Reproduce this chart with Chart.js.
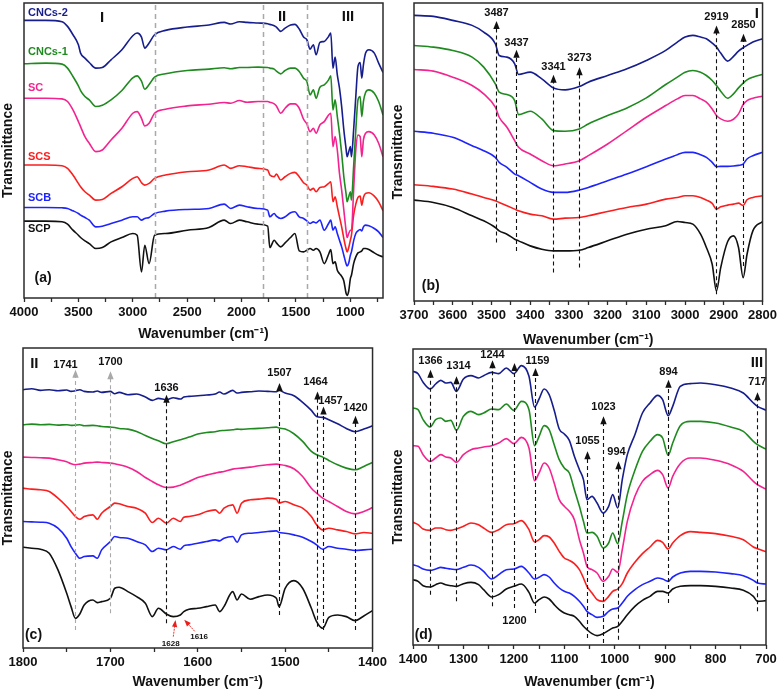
<!DOCTYPE html>
<html><head><meta charset="utf-8">
<script src="https://cdn.jsdelivr.net/npm/chart.js@4.4.1/dist/chart.umd.min.js"></script>
<style>
html,body{margin:0;padding:0;background:#fff;}
#wrap{position:relative;width:780px;height:694px;overflow:hidden;background:#fff;}
canvas{position:absolute;}
</style></head><body>
<div id="wrap">
<canvas id="ca" width="390" height="350" style="left:0;top:0;width:390px;height:350px"></canvas>
<canvas id="cb" width="390" height="350" style="left:390px;top:0;width:390px;height:350px"></canvas>
<canvas id="cc" width="390" height="349" style="left:0;top:345px;width:390px;height:349px"></canvas>
<canvas id="cd" width="390" height="349" style="left:390px;top:345px;width:390px;height:349px"></canvas>
</div>
<script>
// ---------- series names ----------
const seriesNames = ['CNCs-2','CNCs-1','SC','SCS','SCB','SCP'];

// ---------- panel (a): 4000-700 cm-1 ----------
const aWN = [4000,3800,3650,3600,3550,3500,3480,3440,3400,3340,3280,3200,3100,3000,2960,2920,2890,2850,2800,2700,2500,2300,2160,2100,2020,1950,1850,1760,1740,1700,1680,1640,1600,1550,1510,1470,1430,1400,1370,1340,1315,1280,1240,1200,1180,1160,1140,1120,1100,1080,1060,1040,1030,1015,1000,990,970,950,930,910,895,880,860,830,780,740,700];
const aCNCs2 = [938,938,934,920,895,865,840,825,812,795,797,820,850,892,900,888,855,870,895,908,918,924,932,927,934,932,930,928,926,922,918,905,915,924,926,912,888,880,852,865,835,872,875,890,900,795,828,775,735,680,610,555,530,545,560,530,610,710,800,812,765,805,840,850,840,810,782];
const aCNCs1 = [808,810,807,795,770,742,728,710,700,680,684,700,728,766,772,756,732,746,768,778,788,792,796,793,797,797,798,797,795,792,786,778,788,795,795,785,765,755,715,730,705,738,745,760,772,670,700,650,600,540,470,420,395,410,425,400,500,610,700,710,650,695,722,730,720,695,655];
const aSC    = [705,705,703,695,670,635,620,590,570,545,550,580,615,660,665,645,622,630,660,672,682,687,692,690,698,693,695,695,693,688,682,660,675,688,688,675,642,628,605,615,600,625,635,655,660,560,590,550,480,430,370,310,288,300,310,310,430,550,595,590,530,580,600,605,595,570,530];
const aSCS   = [505,505,503,495,475,450,440,425,415,400,402,420,440,465,470,452,445,450,465,475,485,490,505,495,503,500,495,490,475,470,478,460,470,480,483,470,452,445,430,435,425,438,440,450,455,395,410,380,350,320,285,255,245,258,280,295,355,388,408,412,385,408,420,422,412,395,368];
const aSCB   = [378,378,377,375,368,360,355,348,340,320,322,330,340,350,350,340,345,348,360,367,372,375,388,375,385,380,375,370,350,360,352,345,350,362,365,350,345,338,330,335,332,340,310,330,340,310,320,300,280,260,235,210,203,212,235,245,278,300,308,312,308,320,325,323,315,305,288];
const aSCP   = [337,337,335,328,310,295,288,278,270,255,258,275,288,300,295,185,265,210,295,300,310,318,340,330,340,335,328,322,258,280,272,260,272,288,300,248,245,250,255,250,255,245,210,238,252,210,215,190,180,172,158,122,115,128,165,175,210,230,242,245,248,255,255,252,242,235,230];
const aMajor = [4000,3500,3000,2500,2000,1500,1000];
const aMinor = [3750,3250,2750,2250,1750,1250,750];
const aRegions = [2800,1800,1400];

// ---------- panel (b): 3700-2800 cm-1 ----------
const bWN = [3700,3650,3600,3550,3520,3490,3480,3460,3440,3430,3400,3370,3340,3310,3273,3250,3200,3150,3100,3050,3020,3000,2980,2960,2945,2930,2919,2908,2890,2875,2862,2850,2840,2825,2800];
const bCNCs2 = [955,952,940,925,905,870,835,830,810,778,785,765,738,732,742,755,775,795,820,850,875,890,895,890,885,872,860,842,818,832,848,858,865,875,885];
const bCNCs1 = [865,860,850,830,800,750,725,718,700,658,668,645,610,608,615,630,655,678,708,748,770,785,790,785,775,760,745,728,707,720,738,752,762,770,778];
const bSC    = [793,788,770,745,720,680,650,620,580,560,540,520,505,510,520,535,570,610,650,685,705,715,715,705,695,675,655,645,638,644,660,688,700,707,713];
const bSCS   = [448,443,435,420,410,400,395,385,375,370,360,355,345,348,350,355,368,380,390,405,410,415,415,410,402,392,375,382,387,390,393,386,403,410,415];
const bSCB   = [608,602,590,565,550,530,515,500,480,475,455,435,425,425,432,440,460,480,502,525,538,545,545,538,530,515,502,503,503,504,506,510,525,535,545];
const bSCP   = [402,395,380,355,340,320,310,300,285,280,265,255,250,250,252,260,280,300,315,325,338,335,330,300,260,210,130,200,278,295,260,170,240,310,338];
const bMajor = [3700,3600,3500,3400,3300,3200,3100,3000,2900,2800];
const bMinor = [3650,3550,3450,3350,3250,3150,3050,2950,2850];
const bPeaks = [3487,3437,3341,3273,2919,2850];

// ---------- panel (c): 1800-1400 cm-1 ----------
const cWN = [1800,1790,1780,1770,1760,1750,1745,1740,1735,1730,1720,1715,1710,1700,1695,1690,1680,1670,1660,1652,1645,1636,1628,1620,1616,1610,1600,1590,1580,1575,1570,1560,1555,1550,1540,1530,1520,1510,1507,1500,1490,1480,1470,1464,1457,1450,1440,1430,1420,1410,1400];
const cCNCs2 = [850,853,848,850,847,849,845,847,850,845,843,846,842,845,838,842,835,837,828,818,824,820,826,822,828,830,832,834,837,843,837,848,840,842,844,846,845,844,848,840,832,812,788,770,767,760,748,734,724,732,742];
const cCNCs1 = [745,747,745,746,744,745,743,744,745,742,743,742,740,738,737,734,732,725,713,704,697,688,694,700,703,708,717,722,724,727,728,730,732,731,733,734,736,738,735,732,718,695,665,655,648,638,625,615,610,620,632];
const cSC    = [648,647,646,645,640,634,628,625,627,630,632,633,632,630,628,625,618,605,587,575,565,557,558,564,568,575,587,594,600,603,605,612,614,615,618,622,625,627,626,623,613,590,555,540,525,515,500,485,478,485,497];
const cSCS   = [555,552,550,545,525,500,485,470,462,470,475,462,480,500,510,508,500,495,480,452,465,450,465,455,468,470,475,485,490,480,495,505,480,510,520,522,525,522,510,515,505,495,470,445,430,435,430,425,418,422,420];
const cSCB   = [455,454,453,450,435,405,380,360,345,350,352,345,370,395,410,407,405,395,385,365,375,370,380,372,382,385,390,395,400,397,405,410,393,415,420,422,425,427,422,420,415,408,395,385,372,380,375,372,368,370,372];
const cSCP   = [378,375,372,360,310,240,200,165,178,205,220,212,215,225,255,258,245,230,210,170,195,178,170,175,185,192,195,200,205,185,200,245,220,238,222,230,235,225,200,255,278,255,195,155,135,168,175,170,158,172,188];
const cMajor = [1800,1700,1600,1500,1400];
const cMinor = [1750,1650,1550,1450];
const cPeaks = [1741,1700,1636,1507,1464,1457,1420];
const cRedPeaks = [1628,1616];

// ---------- panel (d): 1400-700 cm-1 ----------
const dWN = [1400,1390,1380,1366,1355,1345,1335,1325,1314,1300,1285,1270,1260,1244,1230,1215,1200,1185,1170,1159,1150,1140,1130,1120,1110,1100,1090,1080,1070,1062,1055,1045,1035,1023,1012,1004,994,985,975,960,945,930,915,905,894,885,870,850,830,800,770,745,725,717,700];
const dCNCs2 = [905,898,872,852,867,878,870,872,845,882,892,885,892,902,898,915,898,922,890,798,822,852,835,788,732,717,698,650,610,580,520,530,510,480,500,535,495,580,655,715,780,810,833,820,772,800,860,868,870,865,855,840,810,800,788];
const dCNCs1 = [795,790,760,738,760,765,755,758,728,770,785,775,780,792,790,807,788,815,790,682,710,742,730,685,640,615,600,550,500,455,420,422,410,375,390,420,388,455,535,608,665,695,715,705,653,690,742,755,755,750,738,725,695,685,672];
const dSC    = [682,680,655,635,645,655,648,645,632,655,670,675,678,682,690,703,688,707,675,577,600,630,615,570,520,500,485,460,400,360,320,310,300,275,290,312,302,370,455,530,575,595,608,595,555,590,628,645,645,638,625,605,575,565,552];
const dSCS   = [452,445,432,428,435,435,430,428,432,440,450,445,435,422,430,445,448,457,430,393,400,412,408,390,365,345,338,328,310,285,260,240,220,215,230,245,252,268,300,332,358,378,398,392,372,390,412,424,422,418,410,400,378,373,364];
const dSCB   = [325,320,312,308,312,317,314,312,310,317,324,317,305,282,295,310,312,320,300,282,287,295,288,270,255,245,240,230,215,200,185,175,167,170,185,192,195,210,230,250,265,275,285,282,275,288,300,305,305,303,298,292,278,270,267];
const dSCP   = [280,275,262,258,265,270,265,262,260,268,272,265,250,228,235,252,260,267,242,210,220,228,222,205,190,180,175,170,155,140,130,118,112,118,128,135,140,155,175,200,218,230,245,245,240,252,260,262,262,260,255,248,230,215,217];
const dMajor = [1400,1300,1200,1100,1000,900,800,700];
const dMinor = [1350,1250,1150,1050,950,850,750];
const dPeaks = [1366,1314,1244,1200,1159,1055,1023,994,894,717];

// ---------- styling ----------
const FONT = "'Liberation Sans', Arial, Helvetica, sans-serif";
Chart.defaults.font.family = FONT;
const COLORS = ['#161d8c','#1f8a1f','#f3238f','#fb1e1e','#1e24fb','#111111'];
const INK = '#111';
const GREY = '#a9a9a9';

const marks = {
  id: 'marks',
  afterDatasetsDraw(chart, args, o) {
    const {ctx, chartArea: ca, scales: {x, y}} = chart;
    ctx.save();
    for (const m of (o.lines || [])) {
      const px = Math.round(x.getPixelForValue(m.wn)) + 0.5;
      const yb = y.getPixelForValue(m.to);
      const yt = y.getPixelForValue(m.tip);
      ctx.strokeStyle = m.color; ctx.fillStyle = m.color;
      ctx.lineWidth = m.w || 1.1;
      ctx.setLineDash(m.dash || [4, 3]);
      ctx.beginPath(); ctx.moveTo(px, yb); ctx.lineTo(px, m.arrow ? yt + 6 : yt); ctx.stroke();
      ctx.setLineDash([]);
      if (m.arrow) {
        ctx.beginPath(); ctx.moveTo(px, yt); ctx.lineTo(px - 3.2, yt + 8); ctx.lineTo(px + 3.2, yt + 8); ctx.closePath(); ctx.fill();
      }
      if (m.label) {
        ctx.fillStyle = INK; ctx.font = 'bold 11px ' + FONT;
        ctx.textAlign = 'center'; ctx.textBaseline = 'middle';
        ctx.fillText(m.label, px + (m.dx || 0), y.getPixelForValue(m.lv));
      }
    }
    for (const a of (o.arrows || [])) {
      const x1 = x.getPixelForValue(a.from[0]), y1 = y.getPixelForValue(a.from[1]);
      const x2 = x.getPixelForValue(a.to[0]), y2 = y.getPixelForValue(a.to[1]);
      const ang = Math.atan2(y2 - y1, x2 - x1);
      ctx.strokeStyle = a.color; ctx.fillStyle = a.color; ctx.lineWidth = 0.9;
      ctx.setLineDash([2, 1]);
      ctx.beginPath(); ctx.moveTo(x1, y1); ctx.lineTo(x2 - 5 * Math.cos(ang), y2 - 5 * Math.sin(ang)); ctx.stroke();
      ctx.setLineDash([]);
      ctx.beginPath(); ctx.moveTo(x2, y2);
      ctx.lineTo(x2 - 7 * Math.cos(ang) + 2.6 * Math.sin(ang), y2 - 7 * Math.sin(ang) - 2.6 * Math.cos(ang));
      ctx.lineTo(x2 - 7 * Math.cos(ang) - 2.6 * Math.sin(ang), y2 - 7 * Math.sin(ang) + 2.6 * Math.cos(ang));
      ctx.closePath(); ctx.fill();
      if (a.label) {
        ctx.fillStyle = INK; ctx.font = 'bold 8px ' + FONT; ctx.textAlign = 'center'; ctx.textBaseline = 'middle';
        ctx.fillText(a.label, x.getPixelForValue(a.lp[0]), y.getPixelForValue(a.lp[1]));
      }
    }
    for (const t of (o.texts || [])) {
      ctx.fillStyle = t.color || INK; ctx.font = t.font;
      ctx.textAlign = t.align || 'center'; ctx.textBaseline = 'middle';
      ctx.fillText(t.text, x.getPixelForValue(t.wn), y.getPixelForValue(t.v));
    }
    ctx.strokeStyle = '#2b2b2b'; ctx.lineWidth = 1.5;
    ctx.strokeRect(ca.left, ca.top, ca.right - ca.left, ca.bottom - ca.top);
    ctx.restore();
  }
};

function makeChart(id, cfg) {
  const ticks = cfg.major.concat(cfg.minor).sort((p, q) => q - p);
  return new Chart(document.getElementById(id), {
    type: 'line',
    data: {
      datasets: cfg.series.map((s, i) => ({
        label: seriesNames[i],
        data: cfg.wn.map((w, j) => ({x: w, y: s[j]})),
        borderColor: COLORS[i], borderWidth: 1.6, pointRadius: 0,
        cubicInterpolationMode: 'monotone', fill: false
      }))
    },
    options: {
      responsive: false, animation: false, devicePixelRatio: 1,
      layout: {padding: {top: cfg.pt, right: cfg.pr, left: 0, bottom: 0}},
      plugins: {legend: {display: false}, tooltip: {enabled: false}, marks: cfg.marks},
      scales: {
        x: {
          type: 'linear', reverse: true, min: cfg.xmin, max: cfg.xmax,
          afterBuildTicks: s => { s.ticks = ticks.map(v => ({value: v})); },
          afterFit: s => { s.height = cfg.xh; },
          ticks: {autoSkip: false, maxRotation: 0, minRotation: 0, padding: 3, color: INK,
                  font: {size: 13, weight: 'bold'},
                  callback: v => cfg.major.includes(v) ? String(v) : ''},
          grid: {drawOnChartArea: false, drawTicks: true, tickLength: 4, tickColor: '#2b2b2b', tickWidth: 1.3},
          border: {display: false},
          title: {display: true, text: 'Wavenumber (cm\u207B\u00B9)', color: INK,
                  font: {size: 14, weight: 'bold'}, padding: {top: 0, bottom: cfg.tb}}
        },
        y: {
          min: cfg.ymin, max: cfg.ymax,
          afterFit: s => { s.width = cfg.yw; },
          ticks: {display: false}, grid: {display: false}, border: {display: false},
          title: {display: true, text: 'Transmittance', color: INK,
                  font: {size: 14, weight: 'bold'}, padding: 0}
        }
      }
    },
    plugins: [marks]
  });
}

function peakLine(wn, tip, to, lv, opts) {
  return Object.assign({wn, tip, to, lv, label: String(wn), color: INK, arrow: true, dash: [4, 3], w: 1.1}, opts || {});
}

// ---------- panel (a) ----------
makeChart('ca', {
  wn: aWN, series: [aCNCs2, aCNCs1, aSC, aSCS, aSCB, aSCP],
  xmin: 700, xmax: 4000, ymin: 107, ymax: 990,
  major: aMajor, minor: aMinor, pt: 3, pr: 7, xh: 52, yw: 24, tb: 7,
  marks: {
    lines: aRegions.map(w => ({wn: w, tip: 990, to: 107, color: GREY, dash: [5, 4], w: 1.5})),
    texts: [
      {text: seriesNames[0], wn: 3963, v: 961, align: 'left', color: COLORS[0], font: 'bold 11px ' + FONT},
      {text: seriesNames[1], wn: 3963, v: 844, align: 'left', color: COLORS[1], font: 'bold 11px ' + FONT},
      {text: seriesNames[2], wn: 3963, v: 736, align: 'left', color: COLORS[2], font: 'bold 11px ' + FONT},
      {text: seriesNames[3], wn: 3963, v: 529, align: 'left', color: COLORS[3], font: 'bold 11px ' + FONT},
      {text: seriesNames[4], wn: 3963, v: 406, align: 'left', color: COLORS[4], font: 'bold 11px ' + FONT},
      {text: seriesNames[5], wn: 3963, v: 313, align: 'left', color: COLORS[5], font: 'bold 11px ' + FONT},
      {text: 'I', wn: 3283, v: 946, font: 'bold 15px ' + FONT},
      {text: 'II', wn: 1628, v: 949, font: 'bold 15px ' + FONT},
      {text: 'III', wn: 1022, v: 949, font: 'bold 15px ' + FONT},
      {text: '(a)', wn: 3825, v: 166, font: 'bold 14px ' + FONT}
    ]
  }
});

// ---------- panel (b) ----------
makeChart('cb', {
  wn: bWN, series: [bCNCs2, bCNCs1, bSC, bSCS, bSCB, bSCP],
  xmin: 2800, xmax: 3700, ymin: 100, ymax: 992,
  major: bMajor, minor: bMinor, pt: 3, pr: 17, xh: 49, yw: 24, tb: 1,
  marks: {
    lines: [
      peakLine(bPeaks[0], 938, 275, 962),
      peakLine(bPeaks[1], 852, 250, 872),
      peakLine(bPeaks[2], 777, 185, 800),
      peakLine(bPeaks[3], 800, 200, 828),
      peakLine(bPeaks[4], 925, 120, 950),
      peakLine(bPeaks[5], 900, 205, 925)
    ],
    texts: [
      {text: 'I', wn: 2815, v: 958, font: 'bold 15px ' + FONT},
      {text: '(b)', wn: 3657, v: 145, font: 'bold 14px ' + FONT}
    ]
  }
});

// ---------- panel (c) ----------
makeChart('cc', {
  wn: cWN, series: [cCNCs2, cCNCs1, cSC, cSCS, cSCB, cSCP],
  xmin: 1400, xmax: 1800, ymin: 76, ymax: 975,
  major: cMajor, minor: cMinor, pt: 3, pr: 17, xh: 46, yw: 23, tb: 3,
  marks: {
    lines: [
      peakLine(cPeaks[0], 910, 130, 925, {color: GREY, dx: -10}),
      peakLine(cPeaks[1], 905, 180, 932, {color: GREY}),
      peakLine(cPeaks[2], 835, 150, 855),
      peakLine(cPeaks[3], 870, 175, 900),
      peakLine(cPeaks[4], 845, 140, 872, {dx: -2}),
      peakLine(cPeaks[5], 800, 130, 815, {dx: 7}),
      peakLine(cPeaks[6], 772, 130, 795)
    ],
    arrows: [
      {from: [1628, 110], to: [1625.5, 160], color: '#ee1c1c', label: String(cRedPeaks[0]), lp: [1631, 88]},
      {from: [1603.5, 126], to: [1615.5, 161], color: '#ee1c1c', label: String(cRedPeaks[1]), lp: [1598.5, 110]}
    ],
    texts: [
      {text: 'II', wn: 1787, v: 928, font: 'bold 15px ' + FONT},
      {text: '(c)', wn: 1788, v: 115, font: 'bold 14px ' + FONT}
    ]
  }
});

// ---------- panel (d) ----------
makeChart('cd', {
  wn: dWN, series: [dCNCs2, dCNCs1, dSC, dSCS, dSCB, dSCP],
  xmin: 700, xmax: 1400, ymin: 84, ymax: 972,
  major: dMajor, minor: dMinor, pt: 4, pr: 14, xh: 49, yw: 23, tb: 3,
  marks: {
    lines: [
      peakLine(dPeaks[0], 910, 235, 935),
      peakLine(dPeaks[1], 890, 215, 920, {dx: 2}),
      peakLine(dPeaks[2], 938, 200, 953),
      peakLine(dPeaks[3], 930, 195, 157),
      peakLine(dPeaks[4], 915, 180, 935, {dx: 2}),
      peakLine(dPeaks[5], 665, 105, 695),
      peakLine(dPeaks[6], 770, 90, 798),
      peakLine(dPeaks[7], 635, 100, 662, {dx: -2}),
      peakLine(dPeaks[8], 880, 210, 902),
      peakLine(dPeaks[9], 842, 185, 873)
    ],
    texts: [
      {text: 'III', wn: 718, v: 930, font: 'bold 15px ' + FONT},
      {text: '(d)', wn: 1379, v: 115, font: 'bold 14px ' + FONT}
    ]
  }
});
</script>
</body></html>
